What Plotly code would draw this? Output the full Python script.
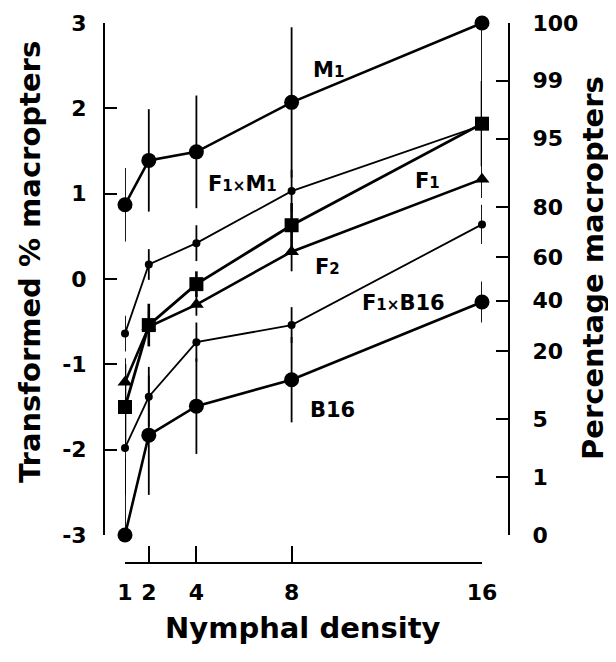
import plotly.graph_objects as go

# ---- data ----
density = [1, 2, 4, 8, 16]

m1 = [0.87, 1.39, 1.49, 2.07, 3.00]
m1_up = [0.43, 0.60, 0.66, 0.88, 0.0]
m1_dn = [0.43, 0.60, 0.66, 0.88, 0.75]

f1xm1 = [-0.64, 0.17, 0.42, 1.03, 1.80]
f1xm1_err = [0.21, 0.18, 0.21, 0.25, 0.40]

f1 = [-1.50, -0.54, -0.06, 0.63, 1.82]
f1_err = [0.50, 0.25, 0.15, 0.26, 0.50]

f2 = [-1.21, -0.56, -0.30, 0.32, 1.17]
f2_err = [0.28, 0.20, 0.13, 0.23, 0.22]

f1xb16 = [-1.98, -1.38, -0.74, -0.54, 0.64]
f1xb16_err = [0.55, 0.35, 0.23, 0.21, 0.23]

b16 = [-3.00, -1.83, -1.49, -1.18, -0.27]
b16_up = [0.90, 0.70, 0.56, 0.50, 0.24]
b16_dn = [0.0, 0.70, 0.56, 0.50, 0.24]

left_tick_vals = [-3, -2, -1, 0, 1, 2, 3]
left_tick_text = ["-3", "-2", "-1", "0", "1", "2", "3"]
right_tick_vals = [-3.0, -2.326, -1.645, -0.842, -0.253, 0.253, 0.842, 1.645, 2.326, 3.0]
right_tick_text = ["0", "1", "5", "20", "40", "60", "80", "95", "99", "100"]

# the page body has an 8 px margin, so the figure is drawn 8 px smaller
OFF = 8
W, H = 616 - OFF, 662 - OFF
FONT = "DejaVu Sans"


def px(x):
    return (x - OFF) / W


def py(y):
    return 1 - (y - OFF) / H


fig = go.Figure()


def add_series(y, up, dn, symbol, msize, lw, ew=1.8):
    fig.add_trace(go.Scatter(
        x=density, y=y, mode="lines+markers",
        line=dict(color="black", width=lw),
        marker=dict(symbol=symbol, size=msize, color="black",
                    line=dict(width=0)),
        error_y=dict(type="data", symmetric=False, array=up, arrayminus=dn,
                     width=0, thickness=ew, color="black"),
        cliponaxis=False, showlegend=False, hoverinfo="skip"))


add_series(m1, m1_up, m1_dn, "circle", 15, 2.6)
add_series(f1xm1, f1xm1_err, f1xm1_err, "circle", 8, 1.8)
add_series(f1, f1_err, f1_err, "square", 14, 2.8, 2.6)
add_series(f2, f2_err, f2_err, "triangle-up", 13, 2.6)
add_series(f1xb16, f1xb16_err, f1xb16_err, "circle", 8, 1.8)
add_series(b16, b16_up, b16_dn, "circle", 15, 2.6)

# transparent twin of one series so the right-hand (percentage) axis is drawn
fig.add_trace(go.Scatter(x=density, y=m1, yaxis="y2", mode="markers",
                         marker=dict(opacity=0), showlegend=False,
                         hoverinfo="skip"))

tickfont = dict(family=FONT, size=22, color="black", weight="bold")
axis_common = dict(showgrid=False, zeroline=False, showline=True, linewidth=2,
                   linecolor="black", ticks="inside", tickwidth=2,
                   tickcolor="black", tickfont=tickfont, automargin=False,
                   fixedrange=True)

fig.update_layout(
    template="none",
    width=W, height=H, margin=dict(l=0, r=0, t=0, b=0, autoexpand=False),
    paper_bgcolor="white", plot_bgcolor="white",
    xaxis=dict(domain=[px(125), px(482)], range=[1, 16], anchor="free",
               position=py(563), tickvals=density, ticklen=16,
               ticklabelstandoff=10, **axis_common),
    yaxis=dict(domain=[py(535), py(23)], range=[-3, 3], anchor="free",
               position=px(104), tickvals=left_tick_vals,
               ticktext=left_tick_text, ticklen=12,
               ticklabelstandoff=12, **axis_common),
    yaxis2=dict(range=[-3, 3], overlaying="y",
                side="right", anchor="free", position=px(509),
                tickvals=right_tick_vals, ticktext=right_tick_text,
                ticklen=12, ticklabelstandoff=18, **axis_common),
)

lab_font = dict(family=FONT, size=21, color="black", weight="bold")
small = "<span style='font-size:15px'>%s</span>"
labels = [
    ("M" + small % "1", 9.53, 2.45),
    ("F" + small % "1" + small % "×" + "M" + small % "1", 5.92, 1.11),
    ("F" + small % "1", 13.69, 1.15),
    ("F" + small % "2", 9.49, 0.14),
    ("F" + small % "1" + small % "×" + "B16", 12.72, -0.28),
    ("B16", 9.70, -1.54),
]
for text, x, y in labels:
    fig.add_annotation(text=text, x=x, y=y, xref="x", yref="y",
                       showarrow=False, font=lab_font,
                       xanchor="center", yanchor="middle")

title_font = dict(family=FONT, size=29, color="black", weight="bold")
titles = [
    ("Transformed % macropters", 30, 262, -90),
    ("Percentage macropters", 593, 268, -90),
    ("Nymphal density", 303, 628, 0),
]
for text, x, y, ang in titles:
    fig.add_annotation(text=text, x=px(x), y=py(y), xref="paper",
                       yref="paper", textangle=ang, showarrow=False,
                       font=title_font, xanchor="center", yanchor="middle")

fig.write_html("out.html")
